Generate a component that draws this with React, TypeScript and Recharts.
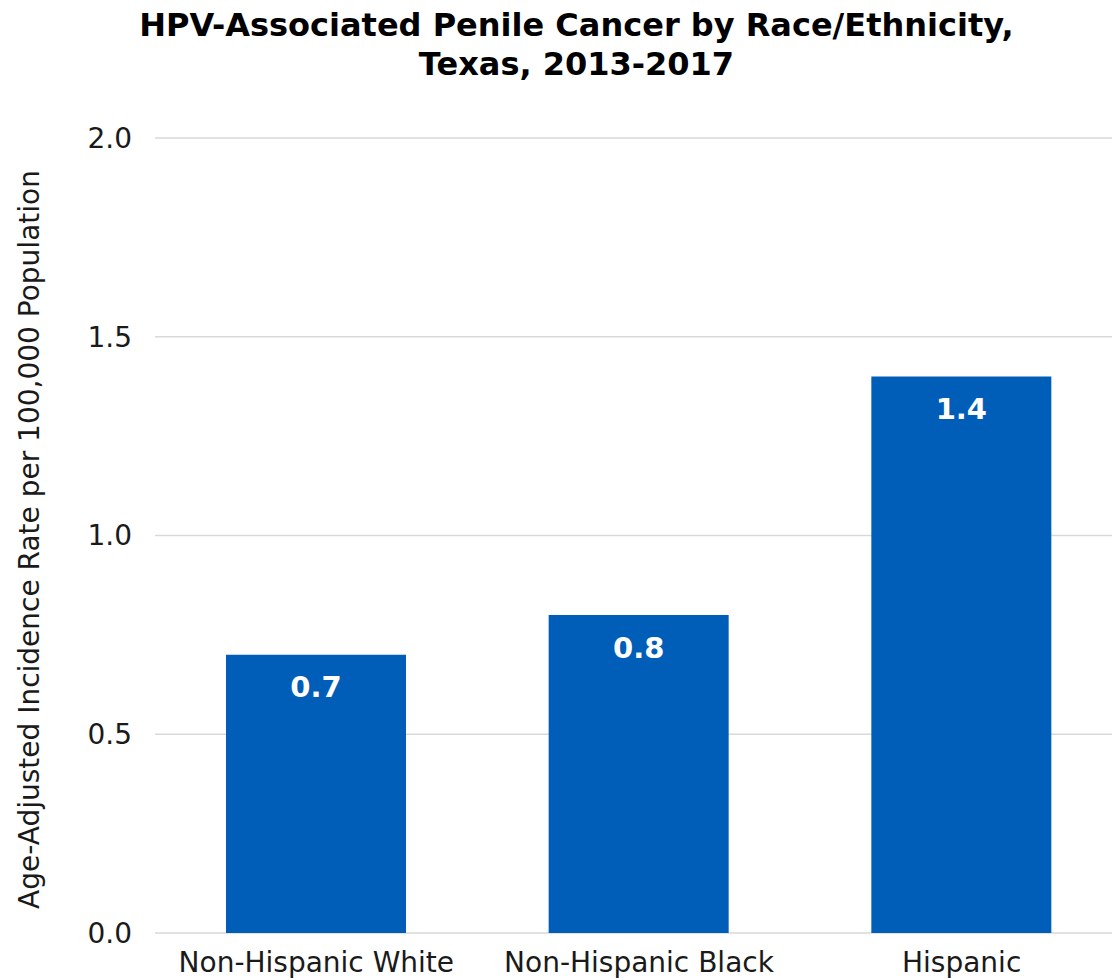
import { BarChart, Bar, XAxis, YAxis, CartesianGrid, LabelList } from 'recharts';

// values
const groups = ['Non-Hispanic White', 'Non-Hispanic Black', 'Hispanic'];
const rates = [0.7, 0.8, 1.4];
const yTicks = [0, 0.5, 1.0, 1.5, 2.0];

const data = groups.map((g, i) => ({ group: g, rate: rates[i] }));

const FONT = '"DejaVu Sans", Verdana, sans-serif';
const TEXT = '#1a1a1a';

export default function App() {
    return (
        <div
            style={{
                position: 'absolute',
                left: 0,
                top: 0,
                width: 1112,
                height: 978,
                overflow: 'hidden',
                background: '#fff',
                fontFamily: FONT,
            }}
        >
            <div
                style={{
                    position: 'absolute',
                    left: 0,
                    top: 6,
                    width: 1153,
                    textAlign: 'center',
                    fontSize: 32,
                    fontWeight: 'bold',
                    lineHeight: '39px',
                    color: '#000',
                }}
            >
                HPV-Associated Penile Cancer by Race/Ethnicity,
                <br />
                Texas, 2013-2017
            </div>
            <BarChart
                width={1123}
                height={978}
                data={data}
                margin={{ top: 138, right: 0, bottom: 0, left: 0 }}
                style={{ position: 'absolute', left: 0, top: 0 }}
            >
                <CartesianGrid vertical={false} stroke="#d9d9d9" strokeWidth={1.5} />
                <XAxis
                    dataKey="group"
                    height={45}
                    axisLine={false}
                    tickLine={false}
                    tickSize={0}
                    tickMargin={19}
                    tick={{ fill: TEXT, fontSize: 28, fontFamily: FONT }}
                />
                <YAxis
                    width={155}
                    domain={[0, 2]}
                    ticks={yTicks}
                    tickFormatter={(v: number) => v.toFixed(1)}
                    axisLine={false}
                    tickLine={false}
                    tickSize={0}
                    tickMargin={23}
                    tick={{ fill: TEXT, fontSize: 28, fontFamily: FONT }}
                    label={{
                        value: 'Age-Adjusted Incidence Rate per 100,000 Population',
                        angle: -90,
                        position: 'center',
                        dx: -48,
                        dy: 4,
                        fill: TEXT,
                        fontSize: 28,
                        fontFamily: FONT,
                    }}
                />
                <Bar dataKey="rate" fill="#005eb8" barSize={180} isAnimationActive={false}>
                    <LabelList
                        dataKey="rate"
                        position="insideTop"
                        offset={22}
                        formatter={(v: any) => Number(v).toFixed(1)}
                        fill="#fff"
                        fontSize={29}
                        fontWeight="bold"
                        fontFamily={FONT}
                    />
                </Bar>
            </BarChart>
        </div>
    );
}
